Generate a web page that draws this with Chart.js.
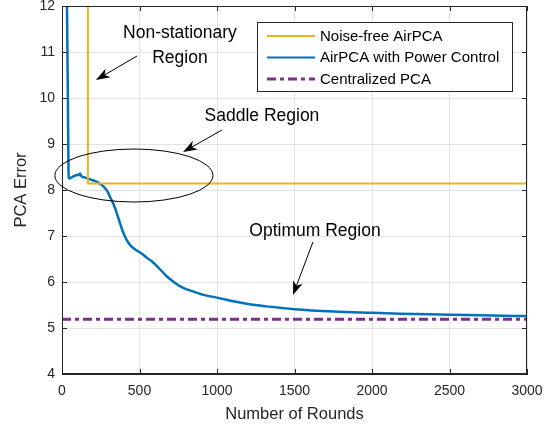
<!DOCTYPE html>
<html><head><meta charset="utf-8">
<script src="https://cdn.jsdelivr.net/npm/chart.js@4.4.1/dist/chart.umd.min.js"></script>
<style>html,body{margin:0;padding:0;background:#fff}#wrap{width:559px;height:430px;position:relative}</style>
</head><body><div id="wrap"><canvas id="c"></canvas></div>
<script>
// ---- data ----
const xTickValues = [0, 500, 1000, 1500, 2000, 2500, 3000];
const yTickValues = [4, 5, 6, 7, 8, 9, 10, 11, 12];
const seriesNames = ['Noise-free AirPCA', 'AirPCA with Power Control', 'Centralized PCA'];

const noiseFreeRounds = [167, 167, 3000];
const noiseFreeError  = [30, 8.14, 8.14];

const powerCtrlRounds = [29, 38, 42, 46, 60, 75, 85, 95, 105, 116, 125, 150, 181, 210, 234, 260, 277, 295, 310, 326, 342, 358, 374, 390, 406, 425, 449, 480, 514, 546, 579, 620, 677, 730, 782, 850, 912, 1000, 1104, 1200, 1319, 1500, 1750, 2000, 2180, 2500, 2774, 3000];
const powerCtrlError  = [13, 10, 8.4, 8.25, 8.27, 8.3, 8.31, 8.33, 8.32, 8.36, 8.3, 8.27, 8.23, 8.2, 8.16, 8.1, 8.04, 7.96, 7.85, 7.74, 7.61, 7.45, 7.28, 7.12, 6.99, 6.87, 6.77, 6.69, 6.62, 6.53, 6.45, 6.32, 6.12, 5.98, 5.87, 5.79, 5.72, 5.66, 5.58, 5.52, 5.47, 5.41, 5.36, 5.33, 5.31, 5.29, 5.27, 5.26];

const centralRounds = [0, 3000];
const centralError  = [5.19, 5.19];

const toPts = (xs, ys) => xs.map((x, i) => ({x: x, y: ys[i]}));

// annotation anchors in data units
const annotTexts = [
  {text: 'Non-stationary', x: 761, y: 11.413},
  {text: 'Region', x: 761, y: 10.87},
  {text: 'Saddle Region', x: 1290, y: 9.609},
  {text: 'Optimum Region', x: 1632, y: 7.109}
];
const annotArrows = [
  {x0: 484, y0: 10.913, x1: 219, y1: 10.391},
  {x0: 1032, y0: 9.304, x1: 781, y1: 8.826},
  {x0: 1619, y0: 6.870, x1: 1490, y1: 5.717}
];
const saddleEllipse = {cx: 464, cy: 8.315, rx: 510, ry: 0.576};

const INK = '#262626';
const FONT = '"Liberation Sans", Arial, sans-serif';
const colors = ['#EDB120', '#0072BD', '#7E2F8E'];
const dashes = [[], [], [9, 4, 4, 4]];

function drawArrow(ctx, x0, y0, x1, y1) {
  const ang = Math.atan2(y1 - y0, x1 - x0);
  const L = 14, W = 5, notch = 10;
  ctx.save();
  ctx.strokeStyle = '#000'; ctx.fillStyle = '#000'; ctx.lineWidth = 1;
  ctx.beginPath(); ctx.moveTo(x0, y0);
  ctx.lineTo(x1 - Math.cos(ang) * notch, y1 - Math.sin(ang) * notch); ctx.stroke();
  ctx.translate(x1, y1); ctx.rotate(ang);
  ctx.beginPath();
  ctx.moveTo(0, 0); ctx.lineTo(-L, -W); ctx.lineTo(-notch, 0); ctx.lineTo(-L, W); ctx.closePath();
  ctx.fill();
  ctx.restore();
}

const decor = {
  id: 'decor',
  afterDraw(chart) {
    const ctx = chart.ctx, xs = chart.scales.x, ys = chart.scales.y, a = chart.chartArea;
    // axes box + inner ticks
    ctx.save();
    ctx.strokeStyle = INK; ctx.lineWidth = 1;
    ctx.strokeRect(Math.round(a.left) + 0.5, Math.round(a.top) + 0.5, Math.round(a.right - a.left) - 1, Math.round(a.bottom - a.top) - 1);
    ctx.beginPath();
    const T = 5;
    xTickValues.forEach(v => {
      const px = Math.round(xs.getPixelForValue(v)) + 0.5;
      ctx.moveTo(px, a.bottom); ctx.lineTo(px, a.bottom - T);
      ctx.moveTo(px, a.top); ctx.lineTo(px, a.top + T);
    });
    yTickValues.forEach(v => {
      const py = Math.round(ys.getPixelForValue(v)) + 0.5;
      ctx.moveTo(a.left, py); ctx.lineTo(a.left + T, py);
      ctx.moveTo(a.right, py); ctx.lineTo(a.right - T, py);
    });
    ctx.stroke();
    ctx.restore();

    // ellipse
    ctx.save();
    ctx.strokeStyle = '#000'; ctx.lineWidth = 1;
    const ecx = xs.getPixelForValue(saddleEllipse.cx), ecy = ys.getPixelForValue(saddleEllipse.cy);
    const erx = xs.getPixelForValue(saddleEllipse.cx + saddleEllipse.rx) - ecx;
    const ery = ecy - ys.getPixelForValue(saddleEllipse.cy + saddleEllipse.ry);
    ctx.beginPath(); ctx.ellipse(ecx, ecy, erx, ery, 0, 0, Math.PI * 2); ctx.stroke();
    ctx.restore();

    // texts
    ctx.save();
    ctx.fillStyle = '#000'; ctx.font = '17.5px ' + FONT;
    ctx.textAlign = 'center'; ctx.textBaseline = 'middle';
    annotTexts.forEach(t => ctx.fillText(t.text, xs.getPixelForValue(t.x), ys.getPixelForValue(t.y)));
    ctx.restore();

    annotArrows.forEach(r => drawArrow(ctx, xs.getPixelForValue(r.x0), ys.getPixelForValue(r.y0), xs.getPixelForValue(r.x1), ys.getPixelForValue(r.y1)));

    // legend
    const bx = Math.round(a.right) - 270, by = Math.round(a.top) + 16, bw = 255, bh = 69;
    ctx.save();
    ctx.fillStyle = '#fff'; ctx.fillRect(bx, by, bw, bh);
    ctx.strokeStyle = INK; ctx.lineWidth = 1; ctx.strokeRect(bx + 0.5, by + 0.5, bw, bh);
    ctx.font = '15px ' + FONT; ctx.textBaseline = 'middle'; ctx.textAlign = 'left';
    chart.data.datasets.forEach((ds, i) => {
      const yy = by + 14 + i * 21.5;
      ctx.strokeStyle = ds.borderColor; ctx.lineWidth = i === 2 ? 3 : 2;
      ctx.setLineDash(ds.borderDash || []);
      ctx.beginPath(); ctx.moveTo(bx + 10, yy); ctx.lineTo(bx + 58, yy); ctx.stroke();
      ctx.setLineDash([]);
      ctx.fillStyle = '#000';
      ctx.fillText(ds.label, bx + 63, yy + 0.5);
    });
    ctx.restore();
  }
};

new Chart(document.getElementById('c'), {
  type: 'line',
  data: {
    datasets: [
      {label: seriesNames[0], data: toPts(noiseFreeRounds, noiseFreeError), borderColor: colors[0], borderWidth: 2, borderDash: dashes[0], pointRadius: 0, tension: 0, clip: 0},
      {label: seriesNames[1], data: toPts(powerCtrlRounds, powerCtrlError), borderColor: colors[1], borderWidth: 2.5, borderDash: dashes[1], pointRadius: 0, cubicInterpolationMode: 'monotone', clip: 0},
      {label: seriesNames[2], data: toPts(centralRounds, centralError), borderColor: colors[2], borderWidth: 3, borderDash: dashes[2], pointRadius: 0, tension: 0, clip: 0}
    ]
  },
  options: {
    responsive: true, maintainAspectRatio: false, animation: false,
    layout: {padding: {top: 6, right: 32, left: 0, bottom: 0}},
    plugins: {legend: {display: false}, tooltip: {enabled: false}},
    scales: {
      x: {
        type: 'linear', min: 0, max: 3000,
        afterFit(s) { s.height = 56; s.paddingLeft = 0; s.paddingRight = 0; },
        afterBuildTicks(s) { s.ticks = xTickValues.map(v => ({value: v})); },
        grid: {color: '#e3e3e3', drawTicks: false},
        border: {color: INK, width: 1},
        ticks: {color: INK, font: {family: FONT, size: 14}, padding: 9, maxRotation: 0, callback: v => String(v)},
        title: {display: true, text: 'Number of Rounds', color: INK, font: {family: FONT, size: 16.5}, padding: {top: 0, bottom: 6}}
      },
      y: {
        type: 'linear', min: 4, max: 12,
        afterFit(s) { s.width = 62; s.paddingTop = 0; s.paddingBottom = 0; },
        afterBuildTicks(s) { s.ticks = yTickValues.map(v => ({value: v})); },
        grid: {color: '#e3e3e3', drawTicks: false},
        border: {color: INK, width: 1},
        ticks: {color: INK, font: {family: FONT, size: 14}, padding: 7, callback: v => String(v)},
        title: {display: true, text: 'PCA Error', color: INK, font: {family: FONT, size: 16.5}, padding: {top: 12, bottom: 0}}
      }
    }
  },
  plugins: [decor]
});
</script></body></html>
